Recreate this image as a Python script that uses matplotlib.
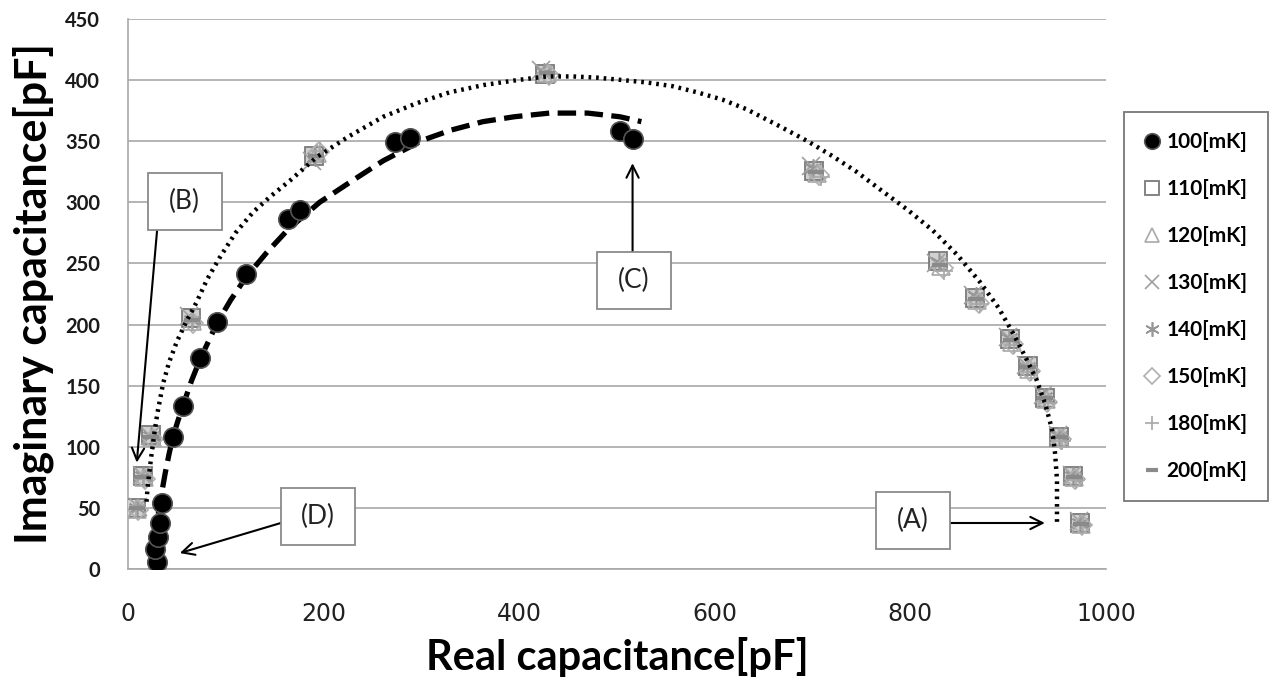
import matplotlib
matplotlib.use('Agg')
import matplotlib.pyplot as plt
from matplotlib.patches import Rectangle

plt.rcParams['font.family'] = ['Lato', 'DejaVu Sans']

# measured points, 100 mK
x_100 = [30, 28, 31, 33, 35, 46, 56, 74, 91, 121, 164, 176, 273, 288, 503, 516]
y_100 = [6, 16, 26, 38, 54, 108, 133, 173, 202, 241, 286, 294, 349, 353, 358, 352]

# measured points, 110 .. 200 mK (they nearly overlap)
x_110 = [8, 15, 24, 64, 190, 426, 702, 828, 866, 902, 920, 938, 952, 966, 974]
y_110 = [50, 76, 110, 205, 338, 405, 326, 252, 222, 188, 166, 140, 108, 76, 38]
x_120 = [9, 16, 25, 66, 193, 429, 705, 831, 868, 904, 921, 939, 953, 967, 975]
y_120 = [49, 75, 108, 203, 340, 406, 324, 248, 220, 186, 164, 139, 107, 75, 37]
x_130 = [10, 14, 23, 62, 188, 422, 698, 826, 864, 900, 918, 936, 951, 965, 973]
y_130 = [51, 77, 109, 207, 334, 408, 330, 250, 224, 190, 167, 142, 110, 77, 39]
x_140 = [9, 15, 24, 65, 191, 425, 700, 829, 867, 901, 919, 937, 952, 966, 974]
y_140 = [50, 76, 109, 204, 337, 407, 328, 251, 223, 189, 165, 141, 109, 76, 38]
x_150 = [10, 17, 26, 67, 195, 431, 707, 833, 870, 905, 922, 940, 954, 968, 976]
y_150 = [48, 74, 106, 201, 341, 404, 322, 246, 218, 184, 162, 137, 106, 74, 36]
x_180 = [8, 16, 25, 66, 196, 433, 709, 834, 871, 906, 923, 941, 955, 969, 977]
y_180 = [49, 74, 107, 202, 342, 405, 321, 244, 217, 183, 161, 136, 105, 73, 36]
x_200 = [9, 15, 24, 65, 192, 428, 704, 830, 867, 903, 920, 938, 953, 967, 975]
y_200 = [50, 75, 108, 204, 338, 406, 325, 249, 221, 187, 165, 140, 108, 75, 37]

# fitted curves
fit1_x = [31, 34, 38, 42, 46, 51, 56, 65, 74, 91, 105, 121, 142, 164, 196, 230, 261,
          302, 330, 363, 395, 431, 470, 503, 525]
fit1_y = [45, 60, 78, 94, 108, 121, 133, 154, 172, 201, 220, 239, 259, 278, 300, 318, 334,
          351, 359, 366, 370, 373, 373, 370, 366]
fit2_x = [19, 20, 22, 24, 27, 30, 36, 42, 50, 60, 70, 81, 94, 110, 128, 146, 166, 193, 226, 261,
          295, 329, 364, 398, 428, 455, 480, 506, 531, 557, 582, 608, 633, 667, 695, 720, 745,
          770, 797, 823, 848, 871, 890, 905, 918, 929, 938, 945, 948, 950, 950, 950]
fit2_y = [55, 66, 80, 93, 111, 127, 152, 169, 186, 203, 218, 237, 255, 275, 292, 305, 318, 337,
          354, 370, 381, 390, 396, 400, 403, 403, 402, 400, 398, 395, 390, 384, 376, 362, 350,
          338, 325, 310, 294, 277, 257, 235, 214, 193, 173, 155, 135, 114, 95, 73, 55, 37]

labels = ['100[mK]', '110[mK]', '120[mK]', '130[mK]', '140[mK]', '150[mK]', '180[mK]', '200[mK]']
x_ticks = [0, 200, 400, 600, 800, 1000]
y_ticks = [0, 50, 100, 150, 200, 250, 300, 350, 400, 450]


fig = plt.figure(figsize=(12.77, 6.93), dpi=100)
ax = fig.add_axes([0.1002, 0.179, 0.7658, 0.7936])

# fit lines
ax.plot(fit2_x, fit2_y, color='black', lw=3.2, ls=(0, (0.6, 1.1)), zorder=4)
ax.plot(fit1_x, fit1_y, color='black', lw=3.8, ls=(0, (3.5, 1.6)), zorder=4)

# data
h = []
h += ax.plot(x_100, y_100, 'o', ms=14, mfc='black', mec='#555555', mew=1.2, zorder=5)
h += ax.plot(x_110, y_110, 's', ms=12.5, mfc='#d0d0d0', mec='#7a7a7a', mew=1.3, zorder=3)
h += ax.plot(x_120, y_120, '^', ms=12.5, mfc='none', mec='#a8a8a8', mew=1.2, zorder=3)
h += ax.plot(x_130, y_130, 'x', ms=13, mec='#a0a0a0', mew=1.2, zorder=3)
h += ax.plot(x_140, y_140, marker=(6, 2, 0), ls='none', ms=13, mec='#969696', mew=1.2, zorder=3)
h += ax.plot(x_150, y_150, 'D', ms=10, mfc='none', mec='#b0b0b0', mew=1.2, zorder=3)
h += ax.plot(x_180, y_180, '+', ms=13, mec='#a8a8a8', mew=1.2, zorder=3)
h += ax.plot(x_200, y_200, '_', ms=11, mec='#8a8a8a', mew=3, zorder=3)

# labelled boxes with arrows
def box(cx, cy, txt):
    w, hgt = 75.7, 46.6
    ax.add_patch(Rectangle((cx - w / 2, cy - hgt / 2), w, hgt, facecolor='white',
                           edgecolor='#8a8a8a', lw=1.3, zorder=6))
    ax.text(cx, cy, txt, ha='center', va='center', fontsize=19, color='#222222', zorder=7)

def arrow(x0, y0, x1, y1):
    ax.annotate('', xy=(x1, y1), xytext=(x0, y0), zorder=6,
                arrowprops=dict(arrowstyle='->', color='black', lw=1.5,
                                mutation_scale=22, shrinkA=0, shrinkB=0))

arrow(30, 279, 9, 87)
box(58, 301, '(B)')
arrow(516, 259, 516, 332)
box(517, 236, '(C)')
arrow(158, 38, 53, 13)
box(194, 43, '(D)')
arrow(839.5, 37.6, 937.6, 37.6)
box(803, 40, '(A)')

ax.set_xlim(0, 1000)
ax.set_ylim(0, 450)
ax.set_xticks(x_ticks)
ax.set_yticks(y_ticks)
ax.set_xticklabels([str(v) for v in x_ticks],
                   family=['Liberation Sans Narrow', 'DejaVu Sans Condensed', 'DejaVu Sans'],
                   fontsize=17, color='#222222')
ax.set_yticklabels([str(v) for v in y_ticks], fontsize=14.5, fontweight='bold', color='#1a1a1a')
ax.tick_params(axis='y', length=0, pad=20)
ax.tick_params(axis='x', length=0, pad=24)
ax.grid(axis='y', color='#a8a8a8', lw=1.2)
ax.set_axisbelow(True)
for s in ['top', 'right']:
    ax.spines[s].set_visible(False)
ax.spines['left'].set_color('#a8a8a8')
ax.spines['bottom'].set_color('#a8a8a8')
ax.spines['left'].set_linewidth(1.2)
ax.spines['bottom'].set_linewidth(1.2)

ax.set_xlabel('Real capacitance[pF]', fontsize=30, fontweight='bold', labelpad=8)
ax.set_ylabel('Imaginary capacitance[pF]', fontsize=31, fontweight='bold', labelpad=8)

leg = fig.legend(h, labels, loc='upper left', bbox_to_anchor=(1124 / 1277, 1 - 112 / 693),
                 frameon=True, fancybox=False, edgecolor='#555555',
                 prop={'weight': 'bold', 'size': 15}, labelspacing=1.3, handlelength=0.8,
                 handletextpad=0.3, borderpad=0.95, markerscale=0.8, borderaxespad=0)
leg.get_frame().set_linewidth(1.3)
leg.legend_handles[1].set_markerfacecolor('white')

fig.savefig('out.png', dpi=100)
